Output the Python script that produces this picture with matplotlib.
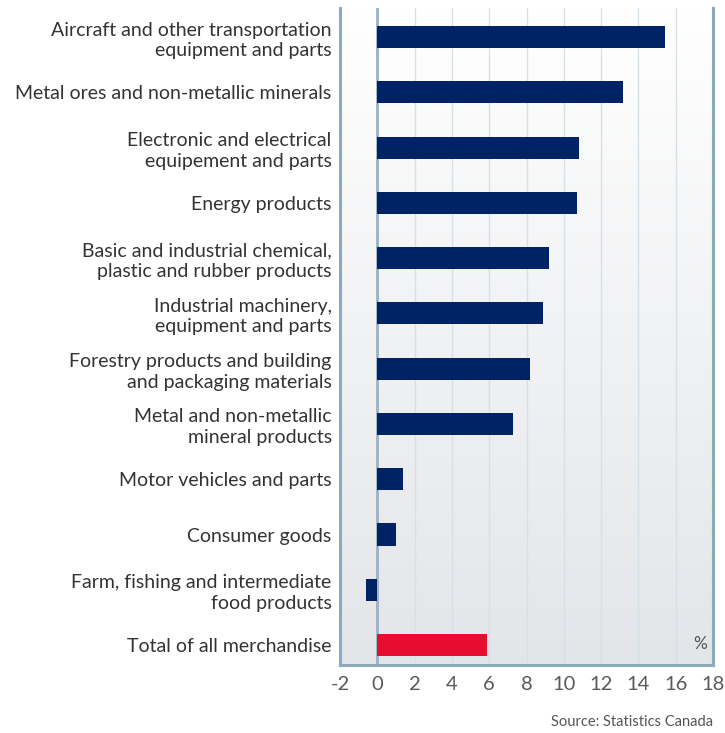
import matplotlib.pyplot as plt
import numpy as np

categories = [
    'Aircraft and other transportation\nequipment and parts',
    'Metal ores and non-metallic minerals',
    'Electronic and electrical\nequipement and parts',
    'Energy products',
    'Basic and industrial chemical,\nplastic and rubber products',
    'Industrial machinery,\nequipment and parts',
    'Forestry products and building\nand packaging materials',
    'Metal and non-metallic\nmineral products',
    'Motor vehicles and parts',
    'Consumer goods',
    'Farm, fishing and intermediate\nfood products',
    'Total of all merchandise',
]
values = [15.4, 13.2, 10.8, 10.7, 9.2, 8.9, 8.2, 7.3, 1.4, 1.0, -0.6, 5.9]
bar_colors = ['#002366'] * 11 + ['#e60d31']
xticks = list(range(-2, 20, 2))

plt.rcParams['font.family'] = ['Lato', 'DejaVu Sans']

fig = plt.figure(figsize=(7.25, 7.33), dpi=100)
ax = fig.add_axes([340 / 725, 68 / 733, 373 / 725, 657 / 733])

# gradient background
grad = np.linspace(0, 1, 256).reshape(-1, 1)
ax.imshow(grad, extent=[0, 1, 0, 1], transform=ax.transAxes, aspect='auto',
          cmap=plt.matplotlib.colors.LinearSegmentedColormap.from_list(
              'bg', ['#ffffff', '#e3e5e8']),
          zorder=0)

y = np.arange(len(categories))
ax.barh(y, values, height=0.4, color=bar_colors, zorder=3)

ax.set_xlim(-2, 18)
ax.set_ylim(len(categories) - 1 + 0.36, -0.525)
ax.set_xticks(xticks)
ax.set_xticklabels([str(t) for t in xticks], fontsize=14.5, color='#5a5a5a')
ax.set_yticks(y)
ax.set_yticklabels(categories, fontsize=14, color='#333333', ha='right',
                   linespacing=1.25)
ax.tick_params(length=0, pad=8)
ax.tick_params(axis='y', pad=6)

for t in xticks[1:-1]:
    ax.axvline(t, color='#d6e0e8', lw=1, zorder=1)
ax.axvline(0, color='#9ab2c4', lw=2, zorder=2)

for s in ['left', 'right', 'bottom']:
    ax.spines[s].set_color('#8fa9bc')
    ax.spines[s].set_linewidth(2.2)
ax.spines['top'].set_visible(False)

ax.text(0.985, 0.02, '%', transform=ax.transAxes, ha='right', va='bottom',
        fontsize=12.5, color='#555555')
fig.text(713 / 725, 1 - 722 / 733, 'Source: Statistics Canada', ha='right',
         va='center', fontsize=10.5, color='#555555')

plt.savefig('out.png', dpi=100, facecolor='white')
